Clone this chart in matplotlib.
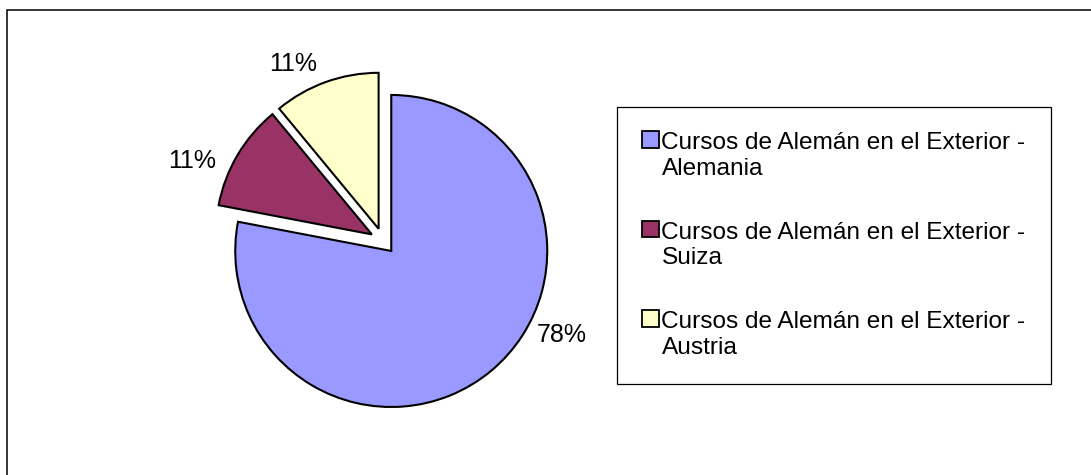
import matplotlib.pyplot as plt
from matplotlib.patches import Rectangle
from matplotlib.legend_handler import HandlerPatch

plt.rcParams['font.family'] = ['Liberation Sans', 'DejaVu Sans']

# data
countries = ['Alemania', 'Suiza', 'Austria']
shares = [78, 11, 11]
colors = ['#9999FF', '#993366', '#FFFFCC']
legend_labels = ['Cursos de Alemán en el Exterior -\n' + c for c in countries]

# where the percentage labels sit (pie data units, Excel "best fit" style)
label_pos = [(1.144, -0.603), (-1.224, 0.513), (-0.577, 1.135)]

LABEL_FS = 18
LEG_FS = 17.6


def upper_square(legend, orig_handle, xdescent, ydescent, width, height, fontsize):
    # put the square next to the first text line, like the original
    side = 0.68 * fontsize
    shift = 0.5 * fontsize * 1.35
    return Rectangle((-xdescent, -ydescent + shift), side, side)


fig = plt.figure(figsize=(10.91, 4.75), dpi=100)

# outer chart border (right and bottom edges run off the picture)
fig.patches.append(Rectangle((7 / 1091, -0.1), 1.2, 1 - 10 / 475 + 0.1,
                             transform=fig.transFigure, fill=False,
                             edgecolor='black', linewidth=1.1))

ax = fig.add_axes([149 / 1091, 0, 468 / 1091, 468 / 475])
wedges, texts = ax.pie(shares, colors=colors, startangle=90, counterclock=False,
                       explode=[0.083] * 3,
                       labels=[f'{s}%' for s in shares],
                       wedgeprops=dict(edgecolor='black', linewidth=1.5),
                       textprops=dict(fontsize=LABEL_FS))
ax.set_xlim(-1.5, 1.5)
ax.set_ylim(-1.5, 1.5)
ax.set_aspect('equal')

for t, pos in zip(texts, label_pos):
    t.set_position(pos)
    t.set_ha('center')
    t.set_va('center')

leg = fig.legend(wedges, legend_labels, loc='center left',
                 bbox_to_anchor=(617 / 1091, 1 - 245.5 / 475),
                 fontsize=LEG_FS, frameon=True, fancybox=False,
                 edgecolor='black', framealpha=1,
                 handlelength=0.68, handleheight=0.68, handletextpad=0.1,
                 labelspacing=1.73, borderpad=1.04, borderaxespad=0,
                 handler_map={p: HandlerPatch(patch_func=upper_square) for p in wedges})
leg.get_frame().set_linewidth(0.9)
for w in leg.get_patches():
    w.set_linewidth(1.3)

fig.savefig('out.png', dpi=100)
